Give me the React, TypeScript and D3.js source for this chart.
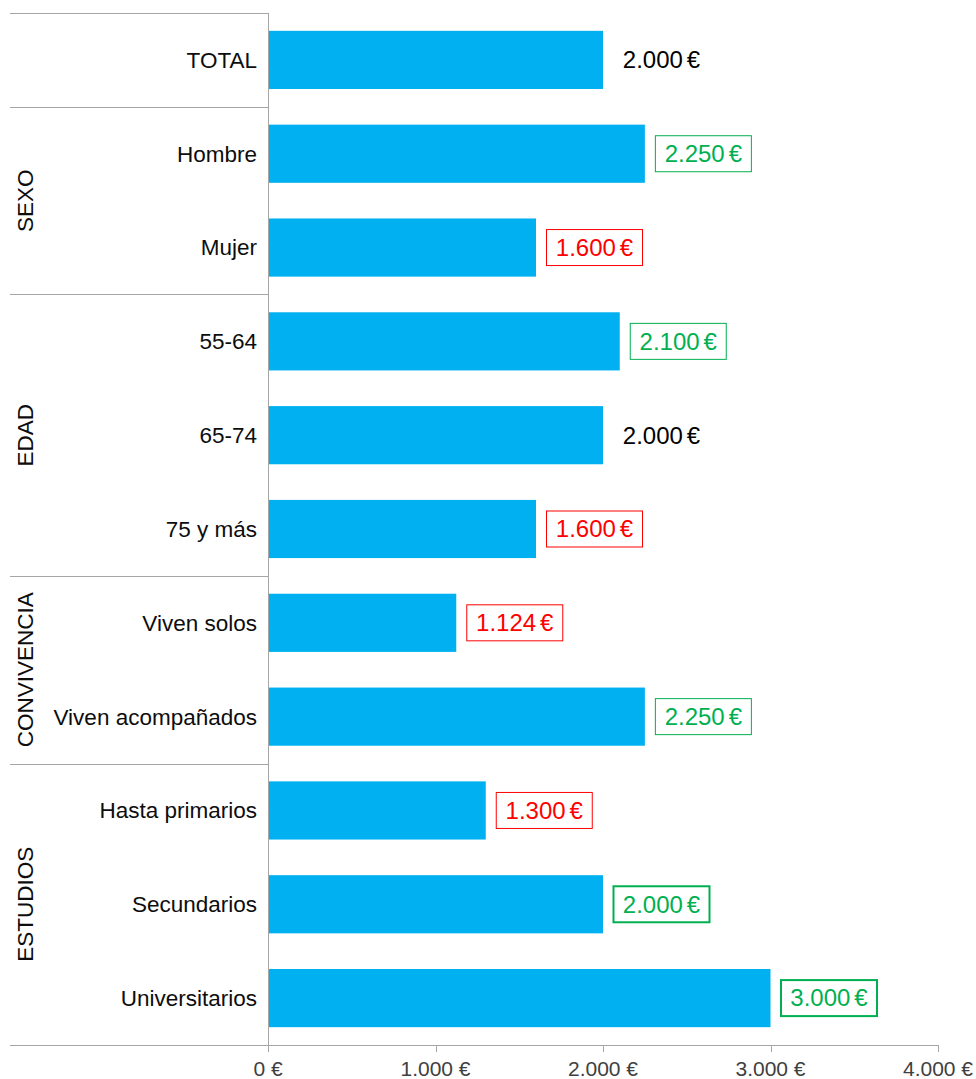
import React from "react";
import * as d3 from "d3";

const categories = ["TOTAL", "Hombre", "Mujer", "55-64", "65-74", "75 y más", "Viven solos", "Viven acompañados", "Hasta primarios", "Secundarios", "Universitarios"];
const values = [2000, 2250, 1600, 2100, 2000, 1600, 1124, 2250, 1300, 2000, 3000];
// label style: 0 = plain black, 1 = green box, 2 = red box, 3 = green thick box
const labelStyles = [0, 1, 2, 1, 0, 2, 2, 1, 2, 3, 3];
const groups = [
  { name: "", from: 0, to: 0 },
  { name: "SEXO", from: 1, to: 2 },
  { name: "EDAD", from: 3, to: 5 },
  { name: "CONVIVENCIA", from: 6, to: 7 },
  { name: "ESTUDIOS", from: 8, to: 10 },
];
const ticks = [0, 1000, 2000, 3000, 4000];

const num = (v: number) => d3.format(",")(v).replace(/,/g, ".");

export default function App() {
  const W = 976, H = 1079;
  const left = 268, top = 13, bottom = 1045, right = 938;
  const x = d3.scaleLinear().domain([0, 4000]).range([left, right]);
  const y = d3.scaleBand<string>().domain(categories).range([top, bottom]).paddingInner(0.38).paddingOuter(0.19);
  const step = y.step();
  const bandTop = (i: number) => top + i * step;
  const font = "Liberation Sans, Arial, sans-serif";
  const grid = "#a6a6a6";
  const green = "#00b050";
  const red = "#ff0000";
  return (
    <svg width={W} height={H} style={{ position: "absolute", left: 0, top: 0 }} fontFamily={font}>
      <rect width={W} height={H} fill="#fff" />
      <line x1={10} x2={left} y1={top + 0.5} y2={top + 0.5} stroke={grid} />
      {groups.slice(1).map((g) => (
        <line key={g.name} x1={10} x2={left} y1={Math.round(bandTop(g.from)) + 0.5} y2={Math.round(bandTop(g.from)) + 0.5} stroke={grid} />
      ))}
      {categories.map((c, i) => (
        <rect key={c} x={x(0)} y={y(c)} width={x(values[i]) - x(0)} height={y.bandwidth()} fill="#00b0f0" />
      ))}
      <line x1={left + 0.5} x2={left + 0.5} y1={top} y2={bottom + 7} stroke={grid} />
      <line x1={10} x2={right} y1={bottom + 0.5} y2={bottom + 0.5} stroke={grid} />
      {ticks.map((t) => (
        <g key={t}>
          <line x1={Math.round(x(t)) + 0.5} x2={Math.round(x(t)) + 0.5} y1={bottom} y2={bottom + 7} stroke={grid} />
          <text x={x(t)} y={bottom + 31} textAnchor="middle" fontSize={21} fill="#404040">{num(t) + " €"}</text>
        </g>
      ))}
      {categories.map((c) => (
        <text key={c} x={257} y={(y(c) as number) + y.bandwidth() / 2} dy="0.35em" textAnchor="end" fontSize={22.5} fill="#0d0d0d">{c}</text>
      ))}
      {groups.filter((g) => g.name).map((g) => {
        const cy = (bandTop(g.from) + bandTop(g.to + 1)) / 2;
        return (
          <text key={g.name} transform={`translate(25,${cy}) rotate(-90)`} dy="0.35em" textAnchor="middle" fontSize={22.5} fill="#0d0d0d">{g.name}</text>
        );
      })}
      {categories.map((c, i) => {
        const s = labelStyles[i];
        const bx = x(values[i]) + 10;
        const cy = (y(c) as number) + y.bandwidth() / 2;
        const color = s === 0 ? "#000" : s === 2 ? red : green;
        return (
          <g key={c}>
            {s > 0 && (
              <rect x={bx + 0.5} y={cy - 18} width={96} height={36} fill="#fff" stroke={color} strokeWidth={s === 3 ? 2 : 1} />
            )}
            <text x={bx + 48.5} y={cy} dy="0.35em" textAnchor="middle" fontSize={24} fill={color}>
              {num(values[i])}
              <tspan dx={4}>€</tspan>
            </text>
          </g>
        );
      })}
    </svg>
  );
}
